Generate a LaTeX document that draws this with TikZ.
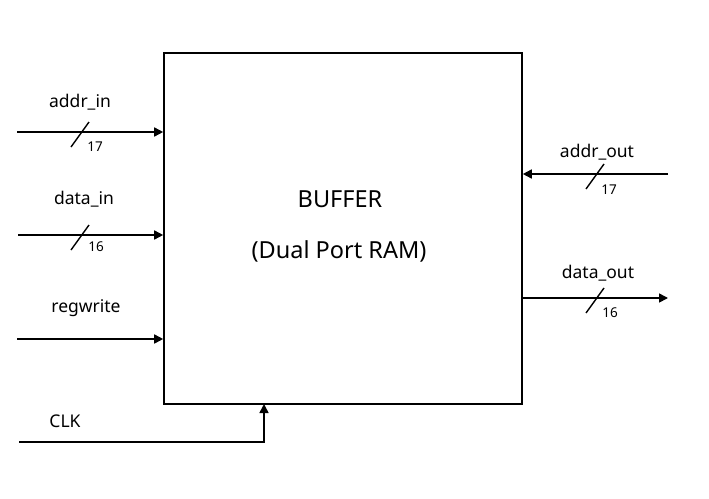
\documentclass[tikz,border=0pt]{standalone}
\usepackage{fontspec}
\setmainfont{Noto Sans}
\usetikzlibrary{arrows.meta}
\begin{document}
\begin{tikzpicture}[x=1pt,y=-1pt,
  wire/.style={line width=1.6pt,-{Triangle[length=9pt,width=9pt]}},
  plain/.style={line width=1.6pt},
  slash/.style={line width=1.4pt},
  lbl/.style={font=\fontsize{17.5}{20}\selectfont,inner sep=0pt},
  num/.style={font=\fontsize{13.5}{15}\selectfont,inner sep=0pt},
  big/.style={font=\fontsize{23.5}{27}\selectfont,inner sep=0pt}]
\useasboundingbox (0,0) rectangle (709,498);
\node[draw,line width=1.6pt,minimum width=358pt,minimum height=351pt,inner sep=0pt] (buf) at (343,228.5) {};
\node[big] (t1) at (340,199) {BUFFER};
\node[big] (t2) at (339,251) {(Dual Port RAM)};
% addr_in
\coordinate (ai) at (17,132);
\draw[wire] (ai) -- (buf.west |- ai);
\coordinate (s1a) at (71,147); \coordinate (s1b) at (89,122);
\draw[slash] (s1a) -- (s1b);
\node[lbl] (lai) at (80,102) {addr\_in};
\node[num] (n1) at (95,147) {17};
% data_in
\coordinate (di) at (18,235);
\draw[wire] (di) -- (buf.west |- di);
\coordinate (s2a) at (71,250); \coordinate (s2b) at (89,225);
\draw[slash] (s2a) -- (s2b);
\node[lbl] (ldi) at (84,199) {data\_in};
\node[num] (n2) at (96,247) {16};
% regwrite
\coordinate (rw) at (17,339);
\draw[wire] (rw) -- (buf.west |- rw);
\node[lbl] (lrw) at (86,308) {regwrite};
% CLK
\coordinate (ck) at (19,442);
\coordinate (ckb) at (264,404);
\draw[wire] (ck) -- (ckb |- ck) -- (ckb);
\node[lbl] (lck) at (65,421) {CLK};
% addr_out
\coordinate (ao) at (668,174);
\draw[wire] (ao) -- (buf.east |- ao);
\coordinate (s3a) at (586,189); \coordinate (s3b) at (604,164);
\draw[slash] (s3a) -- (s3b);
\node[lbl] (lao) at (597,152) {addr\_out};
\node[num] (n3) at (609,190) {17};
% data_out
\coordinate (dout) at (668,298);
\draw[wire] (buf.east |- dout) -- (dout);
\coordinate (s4a) at (586,313); \coordinate (s4b) at (604,288);
\draw[slash] (s4a) -- (s4b);
\node[lbl] (ldo) at (598,273) {data\_out};
\node[num] (n4) at (610,313) {16};
\end{tikzpicture}
\end{document}
